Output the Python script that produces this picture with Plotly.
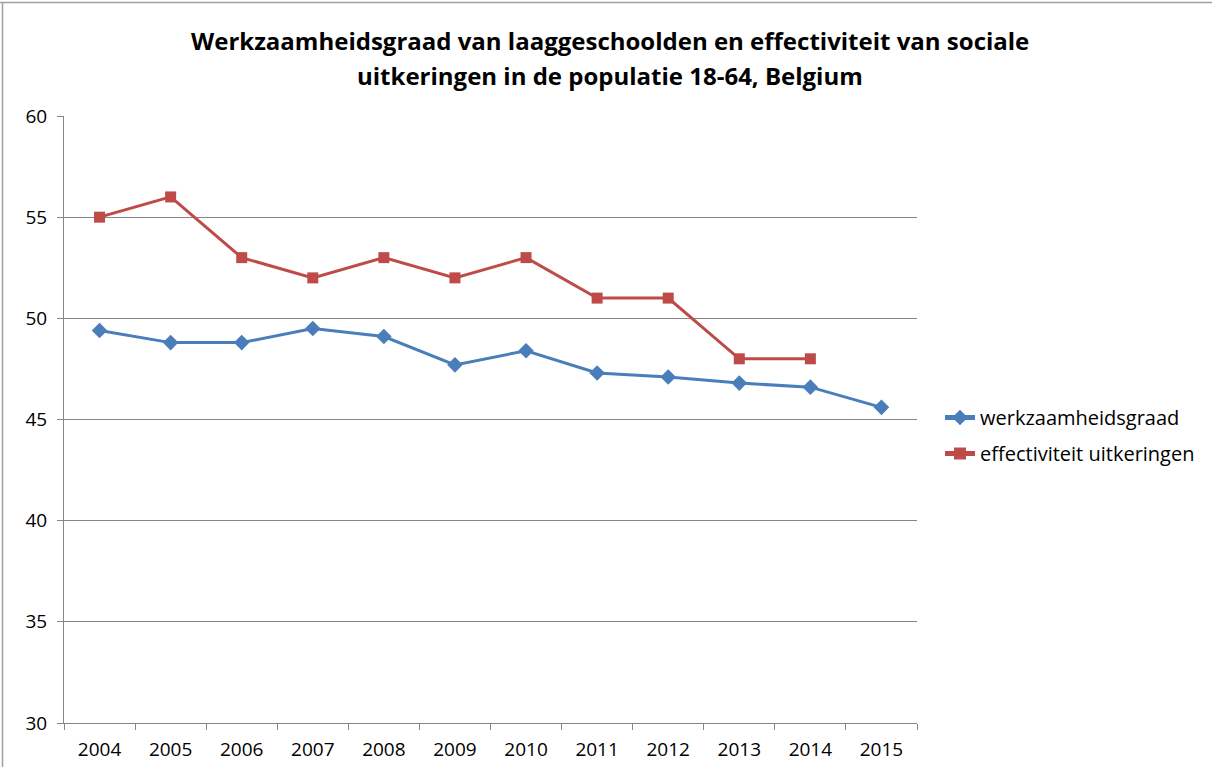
import plotly.graph_objects as go

years = ["2004", "2005", "2006", "2007", "2008", "2009", "2010", "2011", "2012", "2013", "2014", "2015"]
werkzaamheidsgraad = [49.4, 48.8, 48.8, 49.5, 49.1, 47.7, 48.4, 47.3, 47.1, 46.8, 46.6, 45.6]
effectiviteit = [55, 56, 53, 52, 53, 52, 53, 51, 51, 48, 48, None]

title_line1 = "Werkzaamheidsgraad van laaggeschoolden en effectiviteit van sociale"
title_line2 = "uitkeringen in de populatie 18-64, Belgium"

FONT = "Open Sans, Liberation Sans, Arial, sans-serif"

fig = go.Figure()
fig.add_trace(go.Scatter(
    x=years, y=werkzaamheidsgraad, name="werkzaamheidsgraad",
    mode="lines+markers", legendgroup="a",
    line=dict(color="#4A7EBB", width=3),
    marker=dict(symbol="diamond", size=12, color="#4A7EBB"),
))
fig.add_trace(go.Scatter(
    x=years, y=effectiviteit, name="effectiviteit uitkeringen",
    mode="lines+markers", legendgroup="b",
    line=dict(color="#BE4B48", width=3),
    marker=dict(symbol="square", size=11, color="#BE4B48"),
))

W, H = 1212, 767
L, R, T, B = 64, 295, 116, 44
pw, ph = W - L - R, H - T - B

def px_to_paper_x(px):
    return (px - L) / pw

def px_to_paper_y(py):
    return (H - B - py) / ph

fig.update_layout(
    width=W, height=H,
    margin=dict(l=L, r=R, t=T, b=B),
    paper_bgcolor="white", plot_bgcolor="white",
    font=dict(family=FONT, size=19, color="black"),
    showlegend=True,
    legend=dict(x=px_to_paper_x(940), y=px_to_paper_y(398), xanchor="left", yanchor="top",
                font=dict(size=20), bgcolor="rgba(0,0,0,0)", tracegroupgap=7,
                traceorder="grouped", itemsizing="constant"),
    xaxis=dict(type="category", range=[-0.5, 11.5], tickson="boundaries", ticks="outside", ticklen=6,
               tickcolor="#868686", showline=True, linecolor="#868686", linewidth=1,
               showgrid=False, tickfont=dict(size=19), ticklabelstandoff=9, automargin=False),
    yaxis=dict(range=[30, 60], dtick=5, ticks="outside", ticklen=6, tickcolor="#868686",
               showline=True, linecolor="#868686", linewidth=1,
               showgrid=True, gridcolor="#868686", gridwidth=1,
               zeroline=False, tickfont=dict(size=19), ticklabelstandoff=6, automargin=False),
    annotations=[
        dict(text="<b>" + title_line1 + "</b>", xref="paper", yref="paper",
             x=px_to_paper_x(610), y=px_to_paper_y(41), xanchor="center", yanchor="middle",
             showarrow=False, font=dict(size=24, family=FONT, color="black")),
        dict(text="<b>" + title_line2 + "</b>", xref="paper", yref="paper",
             x=px_to_paper_x(610), y=px_to_paper_y(75), xanchor="center", yanchor="middle",
             showarrow=False, font=dict(size=24, family=FONT, color="black")),
    ],
    shapes=[
        dict(type="line", xref="paper", yref="paper",
             x0=px_to_paper_x(0), x1=px_to_paper_x(W), y0=px_to_paper_y(2.5), y1=px_to_paper_y(2.5),
             line=dict(color="#A0A0A0", width=1.5)),
        dict(type="line", xref="paper", yref="paper",
             x0=px_to_paper_x(2.5), x1=px_to_paper_x(2.5), y0=px_to_paper_y(2.5), y1=px_to_paper_y(H),
             line=dict(color="#A0A0A0", width=1.5)),
    ],
)

fig.write_html("out.html", config={"displayModeBar": False},
               post_script="document.body.style.margin='0px';document.body.style.overflow='hidden';")
